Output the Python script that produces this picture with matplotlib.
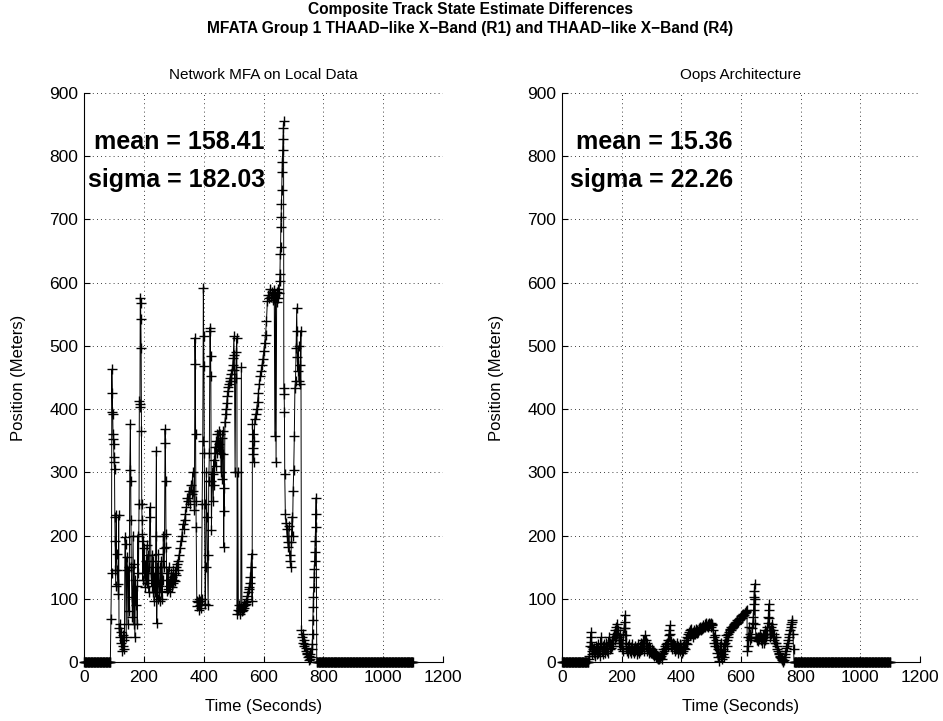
import matplotlib
matplotlib.use("Agg")
import matplotlib.pyplot as plt

plt.rcParams['font.family'] = ['Liberation Sans', 'DejaVu Sans']

# ---------------- data ----------------
title_lines = ["Composite Track State Estimate Differences",
               "MFATA Group 1 THAAD\u2212like X\u2212Band (R1) and THAAD\u2212like X\u2212Band (R4)"]
panel_titles = ["Network MFA on Local Data", "Oops Architecture"]
stats_text = [("mean = 158.41", "sigma = 182.03"), ("mean = 15.36", "sigma = 22.26")]
x_ticks = [0, 200, 400, 600, 800, 1000, 1200]
y_ticks = [0, 100, 200, 300, 400, 500, 600, 700, 800, 900]
x_label = "Time (Seconds)"
y_label = "Position (Meters)"

zero_start_time = [0, 2, 4, 6, 8, 10, 12, 14, 16, 18, 20, 22, 24, 26, 28, 30, 32, 34, 36, 38,
                   40, 42, 44, 46, 48, 50, 52, 54, 56, 58, 60, 62, 64, 66, 68, 70, 72, 74, 76, 78,
                   80, 82, 84, 86, 88]
zero_start_pos = [0, 0, 0, 0, 0, 0, 0, 0, 0, 0, 0, 0, 0, 0, 0, 0, 0, 0, 0, 0,
                  0, 0, 0, 0, 0, 0, 0, 0, 0, 0, 0, 0, 0, 0, 0, 0, 0, 0, 0, 0,
                  0, 0, 0, 0, 0]

zero_end_time = [780, 782, 784, 786, 788, 790, 792, 794, 796, 798, 800, 802, 804, 806, 808, 810,
                 812, 814, 816, 818, 820, 822, 824, 826, 828, 830, 832, 834, 836, 838, 840, 842,
                 844, 846, 848, 850, 852, 854, 856, 858, 860, 862, 864, 866, 868, 870, 872, 874,
                 876, 878, 880, 882, 884, 886, 888, 890, 892, 894, 896, 898, 900, 902, 904, 906,
                 908, 910, 912, 914, 916, 918, 920, 922, 924, 926, 928, 930, 932, 934, 936, 938,
                 940, 942, 944, 946, 948, 950, 952, 954, 956, 958, 960, 962, 964, 966, 968, 970,
                 972, 974, 976, 978, 980, 982, 984, 986, 988, 990, 992, 994, 996, 998, 1000, 1002,
                 1004, 1006, 1008, 1010, 1012, 1014, 1016, 1018, 1020, 1022, 1024, 1026, 1028,
                 1030, 1032, 1034, 1036, 1038, 1040, 1042, 1044, 1046, 1048, 1050, 1052, 1054,
                 1056, 1058, 1060, 1062, 1064, 1066, 1068, 1070, 1072, 1074, 1076, 1078, 1080,
                 1082, 1084, 1086, 1088, 1090, 1092, 1094, 1096, 1098, 1100]
zero_end_pos = [0, 0, 0, 0, 0, 0, 0, 0, 0, 0, 0, 0, 0, 0, 0, 0, 0, 0, 0, 0,
                0, 0, 0, 0, 0, 0, 0, 0, 0, 0, 0, 0, 0, 0, 0, 0, 0, 0, 0, 0,
                0, 0, 0, 0, 0, 0, 0, 0, 0, 0, 0, 0, 0, 0, 0, 0, 0, 0, 0, 0,
                0, 0, 0, 0, 0, 0, 0, 0, 0, 0, 0, 0, 0, 0, 0, 0, 0, 0, 0, 0,
                0, 0, 0, 0, 0, 0, 0, 0, 0, 0, 0, 0, 0, 0, 0, 0, 0, 0, 0, 0,
                0, 0, 0, 0, 0, 0, 0, 0, 0, 0, 0, 0, 0, 0, 0, 0, 0, 0, 0, 0,
                0, 0, 0, 0, 0, 0, 0, 0, 0, 0, 0, 0, 0, 0, 0, 0, 0, 0, 0, 0,
                0, 0, 0, 0, 0, 0, 0, 0, 0, 0, 0, 0, 0, 0, 0, 0, 0, 0, 0, 0,
                0]

left_time = [90, 92, 93, 94, 95, 96, 97, 98, 99, 100, 101, 102, 103, 104, 105, 106, 108, 109, 111,
             113, 115, 116, 117, 119, 121, 123, 125, 127, 129, 131, 133, 135, 137, 139, 141, 143,
             145, 147, 149, 151, 153, 155, 156, 157, 158, 160, 162, 164, 166, 168, 170, 172, 174,
             176, 178, 180, 182, 184, 185, 186, 187, 188, 189, 190, 191, 192, 193, 194, 195, 196,
             198, 200, 202, 204, 206, 208, 210, 212, 214, 216, 218, 220, 222, 224, 226, 228, 230,
             232, 234, 236, 238, 240, 242, 243, 245, 247, 249, 251, 253, 255, 257, 259, 261, 263,
             265, 267, 269, 271, 272, 273, 274, 275, 277, 279, 281, 283, 285, 287, 289, 291, 293,
             295, 297, 299, 301, 303, 305, 307, 309, 311, 313, 315, 318, 321, 324, 327, 330, 333,
             336, 339, 342, 345, 348, 351, 354, 357, 360, 363, 366, 369, 371, 372, 373, 374, 375,
             377, 379, 381, 383, 385, 387, 389, 391, 393, 395, 397, 399, 400, 401, 402, 403, 405,
             407, 409, 411, 413, 415, 417, 419, 421, 422, 423, 424, 425, 426, 428, 430, 432, 434,
             436, 438, 440, 442, 444, 446, 448, 450, 452, 454, 456, 458, 460, 462, 464, 466, 467,
             468, 469, 471, 473, 475, 477, 479, 481, 483, 485, 487, 489, 491, 493, 495, 497, 499,
             501, 502, 503, 505, 507, 509, 511, 512, 514, 516, 518, 520, 522, 524, 526, 528, 530,
             532, 534, 536, 538, 540, 542, 544, 546, 548, 550, 552, 554, 556, 558, 560, 562, 563,
             564, 565, 566, 567, 569, 571, 574, 577, 580, 583, 586, 589, 592, 595, 598, 601, 604,
             607, 610, 613, 616, 619, 622, 625, 628, 631, 634, 636, 638, 640, 642, 644, 646, 648,
             650, 652, 654, 655, 656, 657, 658, 659, 660, 661, 662, 663, 664, 665, 666, 667, 668,
             669, 670, 671, 673, 675, 677, 679, 681, 683, 685, 687, 689, 691, 693, 695, 697, 699,
             701, 703, 705, 707, 709, 711, 712, 713, 715, 717, 719, 721, 723, 725, 727, 729, 731,
             733, 735, 737, 739, 741, 743, 745, 747, 749, 751, 753, 755, 757, 759, 761, 763, 764,
             765, 766, 767, 768, 769, 770, 771, 772, 773, 774, 775, 776, 778]
left_pos = [68, 140, 463, 426, 395, 392, 360, 353, 345, 324, 316, 305, 229, 192, 145, 121, 232, 171,
            145, 124, 108, 232, 53, 40, 60, 30, 48, 18, 42, 25, 35, 20, 197, 187, 40, 166, 145, 60,
            150, 80, 303, 376, 287, 224, 150, 103, 71, 200, 60, 155, 39, 130, 90, 120, 60, 200, 140,
            250, 413, 408, 403, 576, 568, 542, 497, 366, 250, 224, 203, 129, 192, 140, 180, 118,
            160, 130, 185, 125, 170, 110, 150, 245, 229, 140, 120, 170, 110, 160, 97, 140, 110, 200,
            334, 61, 150, 100, 171, 120, 97, 150, 110, 160, 100, 130, 200, 150, 180, 368, 347, 287,
            203, 182, 113, 140, 115, 150, 120, 130, 110, 140, 118, 135, 125, 145, 130, 140, 128, 150,
            138, 155, 145, 160, 170, 180, 192, 200, 218, 210, 225, 234, 245, 260, 255, 270, 250, 280,
            265, 300, 270, 240, 513, 471, 360, 255, 213, 97, 88, 95, 82, 100, 90, 97, 85, 100, 250,
            350, 592, 515, 468, 330, 250, 92, 150, 300, 230, 170, 90, 287, 330, 529, 524, 484, 452,
            287, 208, 300, 297, 255, 320, 280, 340, 310, 350, 330, 360, 340, 366, 345, 330, 360, 300,
            355, 290, 366, 329, 182, 276, 239, 380, 392, 400, 410, 420, 429, 435, 440, 445, 450, 455,
            445, 462, 470, 481, 515, 486, 462, 300, 450, 490, 513, 76, 300, 82, 90, 80, 76, 85, 466,
            80, 82, 88, 85, 92, 90, 95, 92, 100, 105, 110, 115, 118, 125, 134, 150, 171, 97, 376,
            360, 339, 329, 316, 350, 385, 392, 400, 412, 425, 440, 452, 460, 470, 480, 492, 505, 518,
            540, 571, 580, 575, 590, 578, 585, 572, 588, 575, 358, 580, 316, 585, 570, 590, 575, 583,
            603, 614, 645, 656, 688, 704, 725, 746, 775, 791, 810, 828, 844, 855, 434, 424, 395, 297,
            234, 220, 210, 200, 190, 182, 215, 170, 160, 150, 190, 230, 200, 270, 303, 358, 434, 445,
            497, 560, 524, 482, 460, 500, 445, 470, 440, 524, 50, 40, 45, 30, 35, 25, 28, 18, 22, 12,
            15, 8, 3, 10, 5, 12, 8, 20, 29, 45, 66, 87, 103, 118, 134, 147, 160, 174, 192, 213, 234,
            260, 0]

right_time = [90, 92, 94, 96, 97, 98, 99, 100, 102, 104, 106, 108, 110, 112, 114, 116, 118, 120,
              122, 124, 126, 128, 130, 132, 134, 136, 138, 140, 142, 144, 146, 148, 150, 152, 154,
              156, 158, 160, 162, 164, 166, 168, 170, 172, 174, 176, 178, 180, 182, 184, 186, 188,
              190, 192, 194, 196, 198, 200, 202, 204, 206, 208, 210, 211, 212, 213, 214, 216, 218,
              220, 222, 224, 226, 228, 230, 232, 234, 236, 238, 240, 242, 244, 246, 248, 250, 252,
              254, 256, 258, 260, 262, 264, 266, 268, 270, 272, 274, 276, 278, 280, 282, 284, 286,
              288, 290, 292, 294, 296, 298, 300, 302, 304, 306, 308, 310, 312, 314, 316, 318, 320,
              322, 324, 326, 328, 330, 332, 334, 336, 338, 340, 342, 344, 346, 348, 350, 352, 354,
              356, 358, 360, 362, 363, 364, 366, 368, 370, 372, 374, 376, 378, 380, 382, 384, 386,
              388, 390, 392, 394, 396, 398, 400, 402, 404, 406, 408, 410, 412, 414, 416, 418, 420,
              422, 424, 426, 428, 430, 432, 434, 436, 438, 440, 442, 444, 446, 448, 450, 452, 454,
              456, 458, 460, 462, 464, 466, 468, 470, 472, 474, 476, 478, 480, 482, 484, 486, 488,
              490, 492, 494, 496, 498, 500, 502, 504, 506, 508, 510, 512, 514, 516, 518, 520, 522,
              524, 526, 528, 530, 532, 534, 536, 538, 540, 542, 544, 546, 548, 550, 552, 554, 556,
              558, 560, 562, 564, 566, 568, 570, 572, 574, 576, 578, 580, 582, 584, 586, 588, 590,
              592, 594, 596, 598, 600, 602, 604, 606, 608, 610, 612, 614, 616, 618, 620, 621, 623,
              625, 627, 629, 631, 633, 635, 637, 639, 641, 642, 643, 644, 645, 646, 647, 648, 650,
              652, 654, 656, 658, 660, 662, 664, 666, 668, 670, 672, 674, 676, 678, 680, 682, 684,
              686, 688, 690, 692, 693, 694, 695, 696, 698, 700, 702, 704, 706, 708, 710, 712, 714,
              716, 718, 720, 722, 724, 726, 728, 730, 732, 734, 736, 738, 740, 742, 744, 746, 748,
              750, 752, 754, 756, 758, 760, 762, 764, 766, 768, 770, 772, 774, 776, 778]
right_pos = [5, 10, 25, 47, 39, 32, 24, 18, 12, 20, 15, 22, 10, 18, 25, 12, 20, 15, 28, 18, 10, 22,
             39, 30, 18, 25, 12, 20, 28, 15, 22, 30, 18, 25, 14, 39, 28, 20, 30, 22, 35, 25, 40, 30,
             45, 35, 50, 40, 55, 45, 60, 50, 40, 30, 45, 25, 35, 20, 30, 18, 42, 53, 74, 63, 53, 42,
             30, 22, 18, 25, 15, 22, 28, 18, 24, 15, 20, 28, 18, 22, 14, 25, 18, 20, 12, 22, 28, 18,
             15, 25, 18, 22, 30, 20, 35, 25, 18, 30, 42, 35, 25, 18, 30, 22, 15, 25, 18, 22, 15, 20,
             14, 18, 12, 16, 10, 14, 8, 12, 6, 10, 5, 8, 4, 8, 6, 10, 5, 12, 15, 20, 18, 25, 20, 28,
             22, 30, 25, 35, 42, 50, 58, 45, 34, 25, 28, 20, 30, 22, 28, 18, 25, 20, 30, 22, 15, 25,
             20, 28, 18, 24, 20, 15, 25, 18, 22, 28, 20, 30, 35, 28, 40, 45, 38, 48, 42, 50, 44, 52,
             46, 40, 48, 45, 50, 44, 52, 48, 46, 50, 48, 53, 50, 55, 52, 50, 56, 52, 58, 54, 56, 60,
             55, 58, 62, 57, 60, 55, 62, 58, 60, 56, 62, 58, 60, 50, 40, 30, 42, 25, 35, 15, 30, 8,
             20, 2, 15, 25, 10, 30, 5, 20, 12, 28, 8, 18, 30, 42, 25, 35, 45, 40, 48, 50, 52, 50, 55,
             53, 57, 55, 60, 58, 62, 60, 64, 62, 66, 64, 68, 66, 70, 68, 72, 70, 74, 72, 76, 75, 78,
             77, 80, 79, 82, 18, 40, 25, 55, 35, 45, 38, 40, 53, 61, 71, 82, 92, 103, 113, 124, 100,
             60, 40, 35, 38, 34, 40, 36, 39, 45, 35, 40, 30, 38, 42, 30, 45, 35, 50, 40, 55, 45, 61,
             71, 82, 92, 70, 50, 40, 55, 45, 60, 40, 50, 35, 45, 30, 40, 30, 25, 20, 18, 15, 12, 10,
             8, 6, 5, 3, 2, 0, 3, 8, 13, 18, 22, 26, 30, 35, 40, 45, 50, 55, 60, 63, 66, 45, 20, 0]

panels = [(left_time, left_pos), (right_time, right_pos)]

# ---------------- figure ----------------
fig = plt.figure(figsize=(9.43, 7.21), dpi=100)
W, H = 943.0, 721.0
axes_px = [(84, 93, 443, 662), (562, 93, 920, 662)]
stats_x = [605, 573]

fig.text(0.499, 1 - 2 / H, title_lines[0] + "\n" + title_lines[1], ha='center', va='top',
         fontsize=11.2, fontweight='bold', linespacing=1.3)

for i, (l, t, r, b) in enumerate(axes_px):
    ax = fig.add_axes([l / W, 1 - b / H, (r - l) / W, (b - t) / H])
    tt, yy = panels[i]
    times = zero_start_time + tt + zero_end_time
    vals = zero_start_pos + yy + zero_end_pos
    ax.plot(times, vals, color='black', lw=0.7, marker='+', markersize=7.5,
            markeredgewidth=1.0, clip_on=False, zorder=3)
    ax.set_xlim(0, 1200)
    ax.set_ylim(0, 900)
    ax.set_xticks(x_ticks)
    ax.set_yticks(y_ticks)
    ax.tick_params(direction='in', length=4, width=0.8, labelsize=12.5, top=False, right=False,
                   pad=4)
    ax.tick_params(axis='x', pad=6)
    for s in ['top', 'right']:
        ax.spines[s].set_visible(False)
    for s in ['left', 'bottom']:
        ax.spines[s].set_linewidth(0.8)
    ax.grid(True, color='black', linestyle=(0, (1, 4)), linewidth=0.6)
    ax.set_axisbelow(True)
    ax.set_title(panel_titles[i], fontsize=11, pad=10)
    ax.set_xlabel(x_label, fontsize=12, labelpad=10)
    ax.set_ylabel(y_label, fontsize=12, labelpad=17)
    ax.text(stats_x[i], 822, stats_text[i][0], ha='right', va='center', fontsize=18,
            fontweight='bold', zorder=4)
    ax.text(stats_x[i], 762, stats_text[i][1], ha='right', va='center', fontsize=18,
            fontweight='bold', zorder=4)

fig.savefig("out.png", dpi=100)
